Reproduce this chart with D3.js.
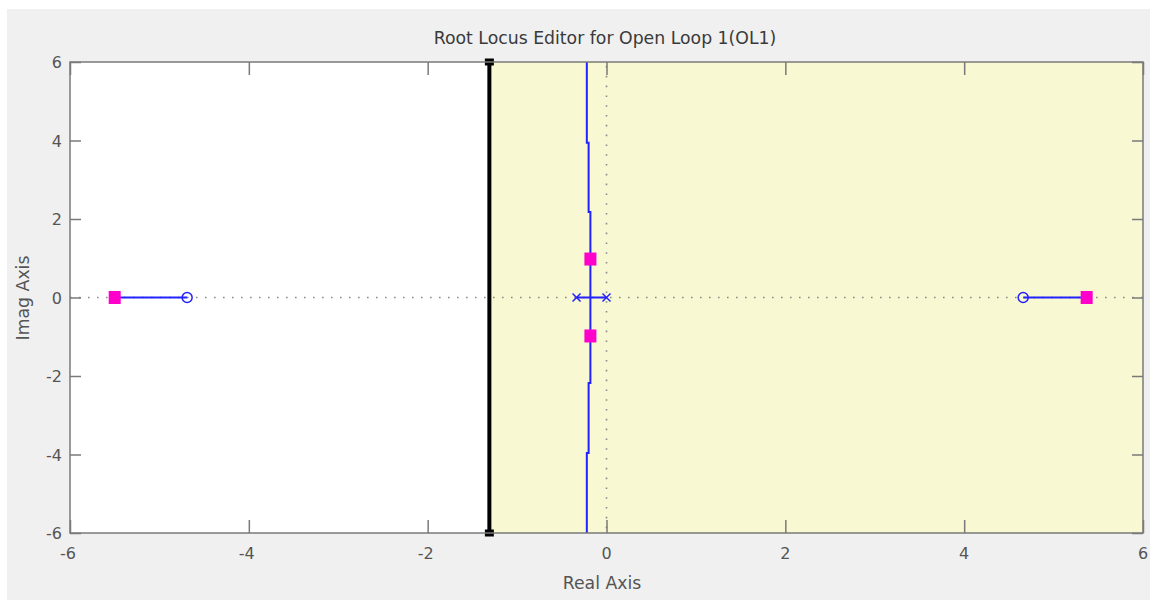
<!DOCTYPE html>
<html>
<head>
<meta charset="utf-8">
<script src="https://cdn.jsdelivr.net/npm/d3@7"></script>
<style>
  html, body { margin: 0; padding: 0; background: #ffffff; }
  svg { display: block; }
  text { font-family: "DejaVu Sans", sans-serif; }
</style>
</head>
<body>
<svg id="chart" width="1158" height="600"></svg>
<script>
// ---------- data ----------
const titleText = "Root Locus Editor for Open Loop 1(OL1)";
const xLabel = "Real Axis";
const yLabel = "Imag Axis";
const xDomain = [-6, 6];
const yDomain = [-6, 6];
const xTicks = [-6, -4, -2, 0, 2, 4, 6];
const yTicks = [-6, -4, -2, 0, 2, 4, 6];

// design constraint boundary (real part); region to its right is shaded
const constraintReal = -1.31;

// root locus branches
const branchUpper = [[-0.18, 0], [-0.18, 2.18], [-0.20, 2.18], [-0.20, 3.94], [-0.22, 3.94], [-0.22, 6]];
const branchLower = [[-0.18, 0], [-0.18, -2.18], [-0.20, -2.18], [-0.20, -3.96], [-0.22, -3.96], [-0.22, -6]];
const branchPoles = [[-0.335, 0], [0, 0]];
const branchLeft = [[-5.50, 0], [-4.69, 0]];
const branchRight = [[4.66, 0], [5.37, 0]];

// open-loop poles / zeros, closed-loop poles
const openLoopPoles = [[-0.335, 0], [0, 0]];
const openLoopZeros = [[-4.69, 0], [4.66, 0]];
const closedLoopPoles = [[-5.50, 0], [-0.18, 0.98], [-0.18, -0.98], [5.37, 0]];

// ---------- layout ----------
const svg = d3.select("#chart");
const plot = { left: 70, top: 62, width: 1073, height: 471 };

svg.append("rect").attr("x", 7).attr("y", 9).attr("width", 1143).attr("height", 591).attr("fill", "#f0f0f0");

const x = d3.scaleLinear().domain(xDomain).range([plot.left, plot.left + plot.width]);
const y = d3.scaleLinear().domain(yDomain).range([plot.top + plot.height, plot.top]);

const g = svg.append("g");
g.append("rect").attr("x", plot.left).attr("y", plot.top)
  .attr("width", plot.width).attr("height", plot.height).attr("fill", "#ffffff");
g.append("rect").attr("x", x(constraintReal)).attr("y", plot.top)
  .attr("width", x(xDomain[1]) - x(constraintReal)).attr("height", plot.height)
  .attr("fill", "#f8f8d2");

// dotted axes lines
g.append("line").attr("x1", x(xDomain[0])).attr("x2", x(xDomain[1]))
  .attr("y1", y(0)).attr("y2", y(0))
  .attr("stroke", "#8a8a8a").attr("stroke-width", 1.6).attr("stroke-dasharray", "1.6,7.4");
g.append("line").attr("x1", x(0)).attr("x2", x(0))
  .attr("y1", y(yDomain[1]) + 4).attr("y2", y(yDomain[0]))
  .attr("stroke", "#8a8a8a").attr("stroke-width", 1.6).attr("stroke-dasharray", "1.6,8.2");

// locus
const line = d3.line().x(d => x(d[0])).y(d => y(d[1]));
[branchUpper, branchLower, branchPoles, branchLeft, branchRight].forEach(b => {
  g.append("path").attr("d", line(b)).attr("fill", "none")
    .attr("stroke", "#2222ff").attr("stroke-width", 2);
});

// constraint boundary
g.append("line").attr("x1", x(constraintReal)).attr("x2", x(constraintReal))
  .attr("y1", y(yDomain[1])).attr("y2", y(yDomain[0]))
  .attr("stroke", "#000").attr("stroke-width", 4);
[yDomain[1], yDomain[0]].forEach(v => {
  g.append("rect").attr("x", x(constraintReal) - 4.5).attr("y", y(v) - 3.5)
    .attr("width", 9).attr("height", 7).attr("fill", "#000");
});

// zeros
g.selectAll(".zero").data(openLoopZeros).enter().append("circle")
  .attr("cx", d => x(d[0])).attr("cy", d => y(d[1])).attr("r", 5)
  .attr("fill", "none").attr("stroke", "#2222ff").attr("stroke-width", 1.5);

// poles (x)
openLoopPoles.forEach(d => {
  const cx = x(d[0]), cy = y(d[1]), s = 4;
  g.append("path").attr("d", `M${cx - s},${cy - s}L${cx + s},${cy + s}M${cx - s},${cy + s}L${cx + s},${cy - s}`)
    .attr("stroke", "#2222ff").attr("stroke-width", 1.5).attr("fill", "none");
});

// closed-loop poles
g.selectAll(".clp").data(closedLoopPoles).enter().append("rect")
  .attr("x", d => x(d[0]) - 6).attr("y", d => y(d[1]) - 6.5)
  .attr("width", 12).attr("height", 13).attr("fill", "#ff00cc");

// frame
const frame = svg.append("g");
frame.append("rect").attr("x", plot.left).attr("y", plot.top)
  .attr("width", plot.width).attr("height", plot.height)
  .attr("fill", "none").attr("stroke", "#7a7a7a").attr("stroke-width", 1.5);

// ticks (inside) via axes
const tickColor = "#7a7a7a";
function styleAxis(sel) {
  sel.select(".domain").remove();
  sel.selectAll(".tick line").attr("stroke", tickColor).attr("stroke-width", 1.5);
  sel.selectAll("text").remove();
}
svg.append("g").attr("transform", `translate(0,${plot.top + plot.height})`)
  .call(d3.axisTop(x).tickValues(xTicks).tickSize(13).tickFormat("")).call(styleAxis);
svg.append("g").attr("transform", `translate(0,${plot.top})`)
  .call(d3.axisBottom(x).tickValues(xTicks).tickSize(13).tickFormat("")).call(styleAxis);
svg.append("g").attr("transform", `translate(${plot.left},0)`)
  .call(d3.axisRight(y).tickValues(yTicks).tickSize(11).tickFormat("")).call(styleAxis);
svg.append("g").attr("transform", `translate(${plot.left + plot.width},0)`)
  .call(d3.axisLeft(y).tickValues(yTicks).tickSize(11).tickFormat("")).call(styleAxis);

// tick labels
const labColor = "#555555";
svg.append("g").selectAll("text").data(xTicks).enter().append("text")
  .attr("x", d => x(d) - (d < 0 ? 2 : 0)).attr("y", plot.top + plot.height + 26)
  .attr("text-anchor", "middle").attr("font-size", 16).attr("fill", labColor)
  .text(d => d);
svg.append("g").selectAll("text").data(yTicks).enter().append("text")
  .attr("x", plot.left - 8).attr("y", d => y(d) + 6)
  .attr("text-anchor", "end").attr("font-size", 16).attr("fill", labColor)
  .text(d => d);

// title & axis labels
svg.append("text").attr("x", 605).attr("y", 44).attr("text-anchor", "middle")
  .attr("font-size", 17.3).attr("fill", "#3a3a3a").text(titleText);
svg.append("text").attr("x", 602).attr("y", 589).attr("text-anchor", "middle")
  .attr("font-size", 17.3).attr("fill", labColor).text(xLabel);
svg.append("text").attr("transform", `translate(29,298) rotate(-90)`).attr("text-anchor", "middle")
  .attr("font-size", 17.3).attr("fill", labColor).text(yLabel);
</script>
</body>
</html>
